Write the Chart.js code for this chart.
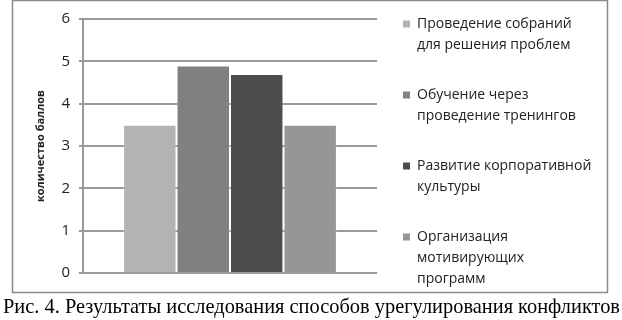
<!DOCTYPE html>
<html>
<head>
<meta charset="utf-8">
<script src="https://cdn.jsdelivr.net/npm/chart.js@4.4.0/dist/chart.umd.min.js"></script>
<style>
  html, body { margin: 0; padding: 0; background: #fff; }
  #wrap { position: relative; width: 622px; height: 320px; }
</style>
</head>
<body>
<div id="wrap"><canvas id="chart" width="622" height="320"></canvas></div>
<script>
// данные диаграммы
const categories = [''];
const seriesNames = [
  ['Проведение собраний', 'для решения проблем'],
  ['Обучение через', 'проведение тренингов'],
  ['Развитие корпоративной', 'культуры'],
  ['Организация', 'мотивирующих', 'программ']
];
const seriesValues = [3.5, 4.9, 4.7, 3.5];
const seriesColors = ['#b3b3b3', '#808080', '#4d4d4d', '#969696'];
const yMin = 0;
const yMax = 6;
const yStep = 1;
const yTitle = 'количество баллов';
const caption = 'Рис. 4. Результаты исследования способов урегулирования конфликтов';

// рамка, легенда справа и подпись под рисунком
const framePlugin = {
  id: 'frame',
  afterDraw(chart) {
    const ctx = chart.ctx;
    ctx.save();

    // рамка области диаграммы
    ctx.strokeStyle = '#8a8a8a';
    ctx.lineWidth = 1.5;
    ctx.strokeRect(12.5, 0.5, 595, 292);

    // легенда (многострочные подписи)
    ctx.font = '14px "Open Sans"';
    ctx.textBaseline = 'middle';
    ctx.textAlign = 'left';
    const lineH = 21;
    const gap = 50;
    let y = 24;
    seriesNames.forEach((lines, i) => {
      ctx.fillStyle = seriesColors[i];
      ctx.fillRect(403, y - 3.5, 7, 7);
      ctx.fillStyle = '#222';
      lines.forEach((ln, k) => {
        ctx.fillText(ln, 417, y + k * lineH);
      });
      y += (lines.length - 1) * lineH + gap;
    });

    // подпись рисунка
    ctx.fillStyle = '#000';
    ctx.font = '21px "Liberation Serif"';
    ctx.fillText(caption, 3, 307, 617);

    ctx.restore();
  }
};

const datasets = seriesNames.map((lines, i) => ({
  label: lines.join(' '),
  data: [seriesValues[i]],
  backgroundColor: seriesColors[i],
  borderColor: 'rgba(255,255,255,0.25)',
  borderWidth: 1,
  categoryPercentage: 4 / 5.5,
  barPercentage: 1
}));

new Chart(document.getElementById('chart'), {
  type: 'bar',
  data: { labels: categories, datasets },
  options: {
    responsive: false,
    animation: false,
    layout: { padding: { left: 0, right: 245, top: 19, bottom: 47 } },
    plugins: {
      legend: { display: false },
      tooltip: { enabled: false }
    },
    scales: {
      x: { display: false },
      y: {
        min: yMin,
        max: yMax,
        ticks: {
          stepSize: yStep,
          color: '#222',
          padding: 9,
          font: { family: 'Open Sans', size: 15 }
        },
        grid: { color: '#999', lineWidth: 2, tickLength: 4 },
        border: { display: true, color: '#999', width: 2 },
        title: {
          display: true,
          text: yTitle,
          color: '#222',
          font: { family: 'Open Sans', size: 11, weight: 'bold' },
          padding: { top: 34, bottom: 0 }
        },
        afterFit(scale) { scale.width = 83; }
      }
    }
  },
  plugins: [framePlugin]
});
</script>
</body>
</html>
